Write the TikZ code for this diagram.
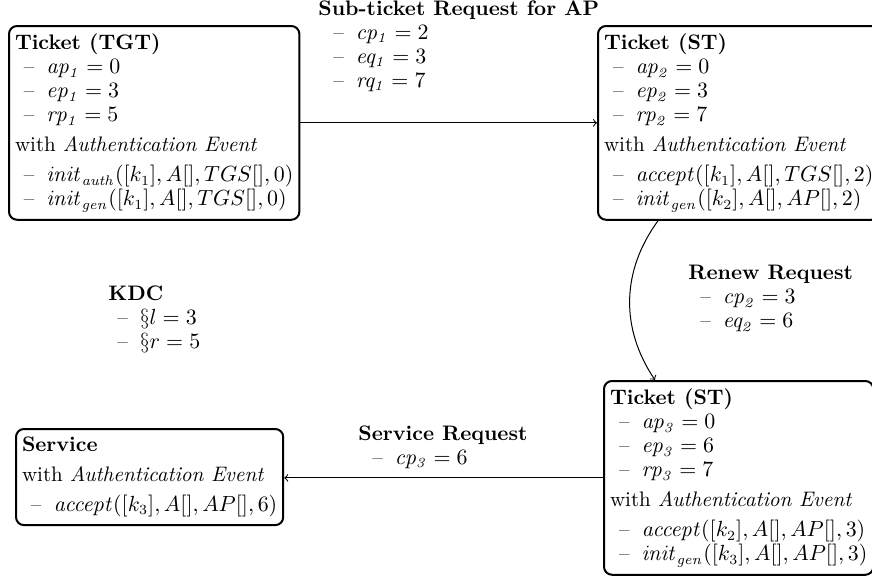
\documentclass[tikz,border=0pt]{standalone}
\usetikzlibrary{calc}
\newcommand\itm[2][4.5pt]{\hspace*{#1}--\hspace{6pt}$#2$}
\begin{document}
\begin{tikzpicture}[x=0.5pt,y=-0.5pt,
  every node/.style={font=\fontsize{10.5}{12}\selectfont},
  box/.style={draw, line width=1pt, rounded corners=4pt, align=left,
    inner xsep=3pt, inner ysep=4pt, anchor=north west},
  lbl/.style={align=left, inner sep=0pt, anchor=north west},
  conn/.style={->, line width=0.5pt}]
\useasboundingbox (0,0) rectangle (872,578);

% tickets and service
\node[box] (tgt) at (8,25) {\textbf{Ticket (TGT)}\\
  \itm{\mathit{ap_1} = 0}\\
  \itm{\mathit{ep_1} = 3}\\
  \itm{\mathit{rp_1} = 5}\\[3pt]
  with \textit{Authentication Event}\\[3pt]
  \itm{\mathit{init}_{\mathit{auth}}([k_1], A[], TGS[], 0)}\\
  \itm{\mathit{init}_{\mathit{gen}}([k_1], A[], TGS[], 0)}};

\node[box] (st1) at (597,25) {\textbf{Ticket (ST)}\\
  \itm{\mathit{ap_2} = 0}\\
  \itm{\mathit{ep_2} = 3}\\
  \itm{\mathit{rp_2} = 7}\\[3pt]
  with \textit{Authentication Event}\\[3pt]
  \itm{\mathit{accept}([k_1], A[], TGS[], 2)}\\
  \itm{\mathit{init}_{\mathit{gen}}([k_2], A[], AP[], 2)}};

\node[box] (st2) at (603,380) {\textbf{Ticket (ST)}\\
  \itm{\mathit{ap_3} = 0}\\
  \itm{\mathit{ep_3} = 6}\\
  \itm{\mathit{rp_3} = 7}\\[3pt]
  with \textit{Authentication Event}\\[3pt]
  \itm{\mathit{accept}([k_2], A[], AP[], 3)}\\
  \itm{\mathit{init}_{\mathit{gen}}([k_3], A[], AP[], 3)}};

\node[box] (svc) at (15,428) {\textbf{Service}\\[3pt]
  with \textit{Authentication Event}\\[3pt]
  \itm{\mathit{accept}([k_3], A[], AP[], 6)}};

% KDC parameters
\node[lbl] (kdc) at (108,285) {\textbf{KDC}\\
  \itm{\S l = 3}\\
  \itm{\S r = 5}};

% requests
\draw[conn] (tgt) -- (st1);
\node[lbl] (subreq) at (318,0) {\textbf{Sub-ticket Request for AP}\\
  \itm[7.5pt]{\mathit{cp_1} = 2}\\
  \itm[7.5pt]{\mathit{eq_1} = 3}\\
  \itm[7.5pt]{\mathit{rq_1} = 7}};

\coordinate (rs) at ($(st1.south west)+(61,0)$);
\coordinate (re) at ($(st2.north west)+(52,0)$);
\draw[conn] (rs) to[bend right=35] (re);
\node[lbl] (renew) at (688,265) {\textbf{Renew Request}\\
  \itm[6pt]{\mathit{cp_2} = 3}\\
  \itm[6pt]{\mathit{eq_2} = 6}};

\draw[conn] (st2.west) -- (st2.west -| svc.east);
\node[lbl] (svcreq) at (358,425) {\textbf{Service Request}\\
  \itm[7pt]{\mathit{cp_3} = 6}};
\end{tikzpicture}
\end{document}
